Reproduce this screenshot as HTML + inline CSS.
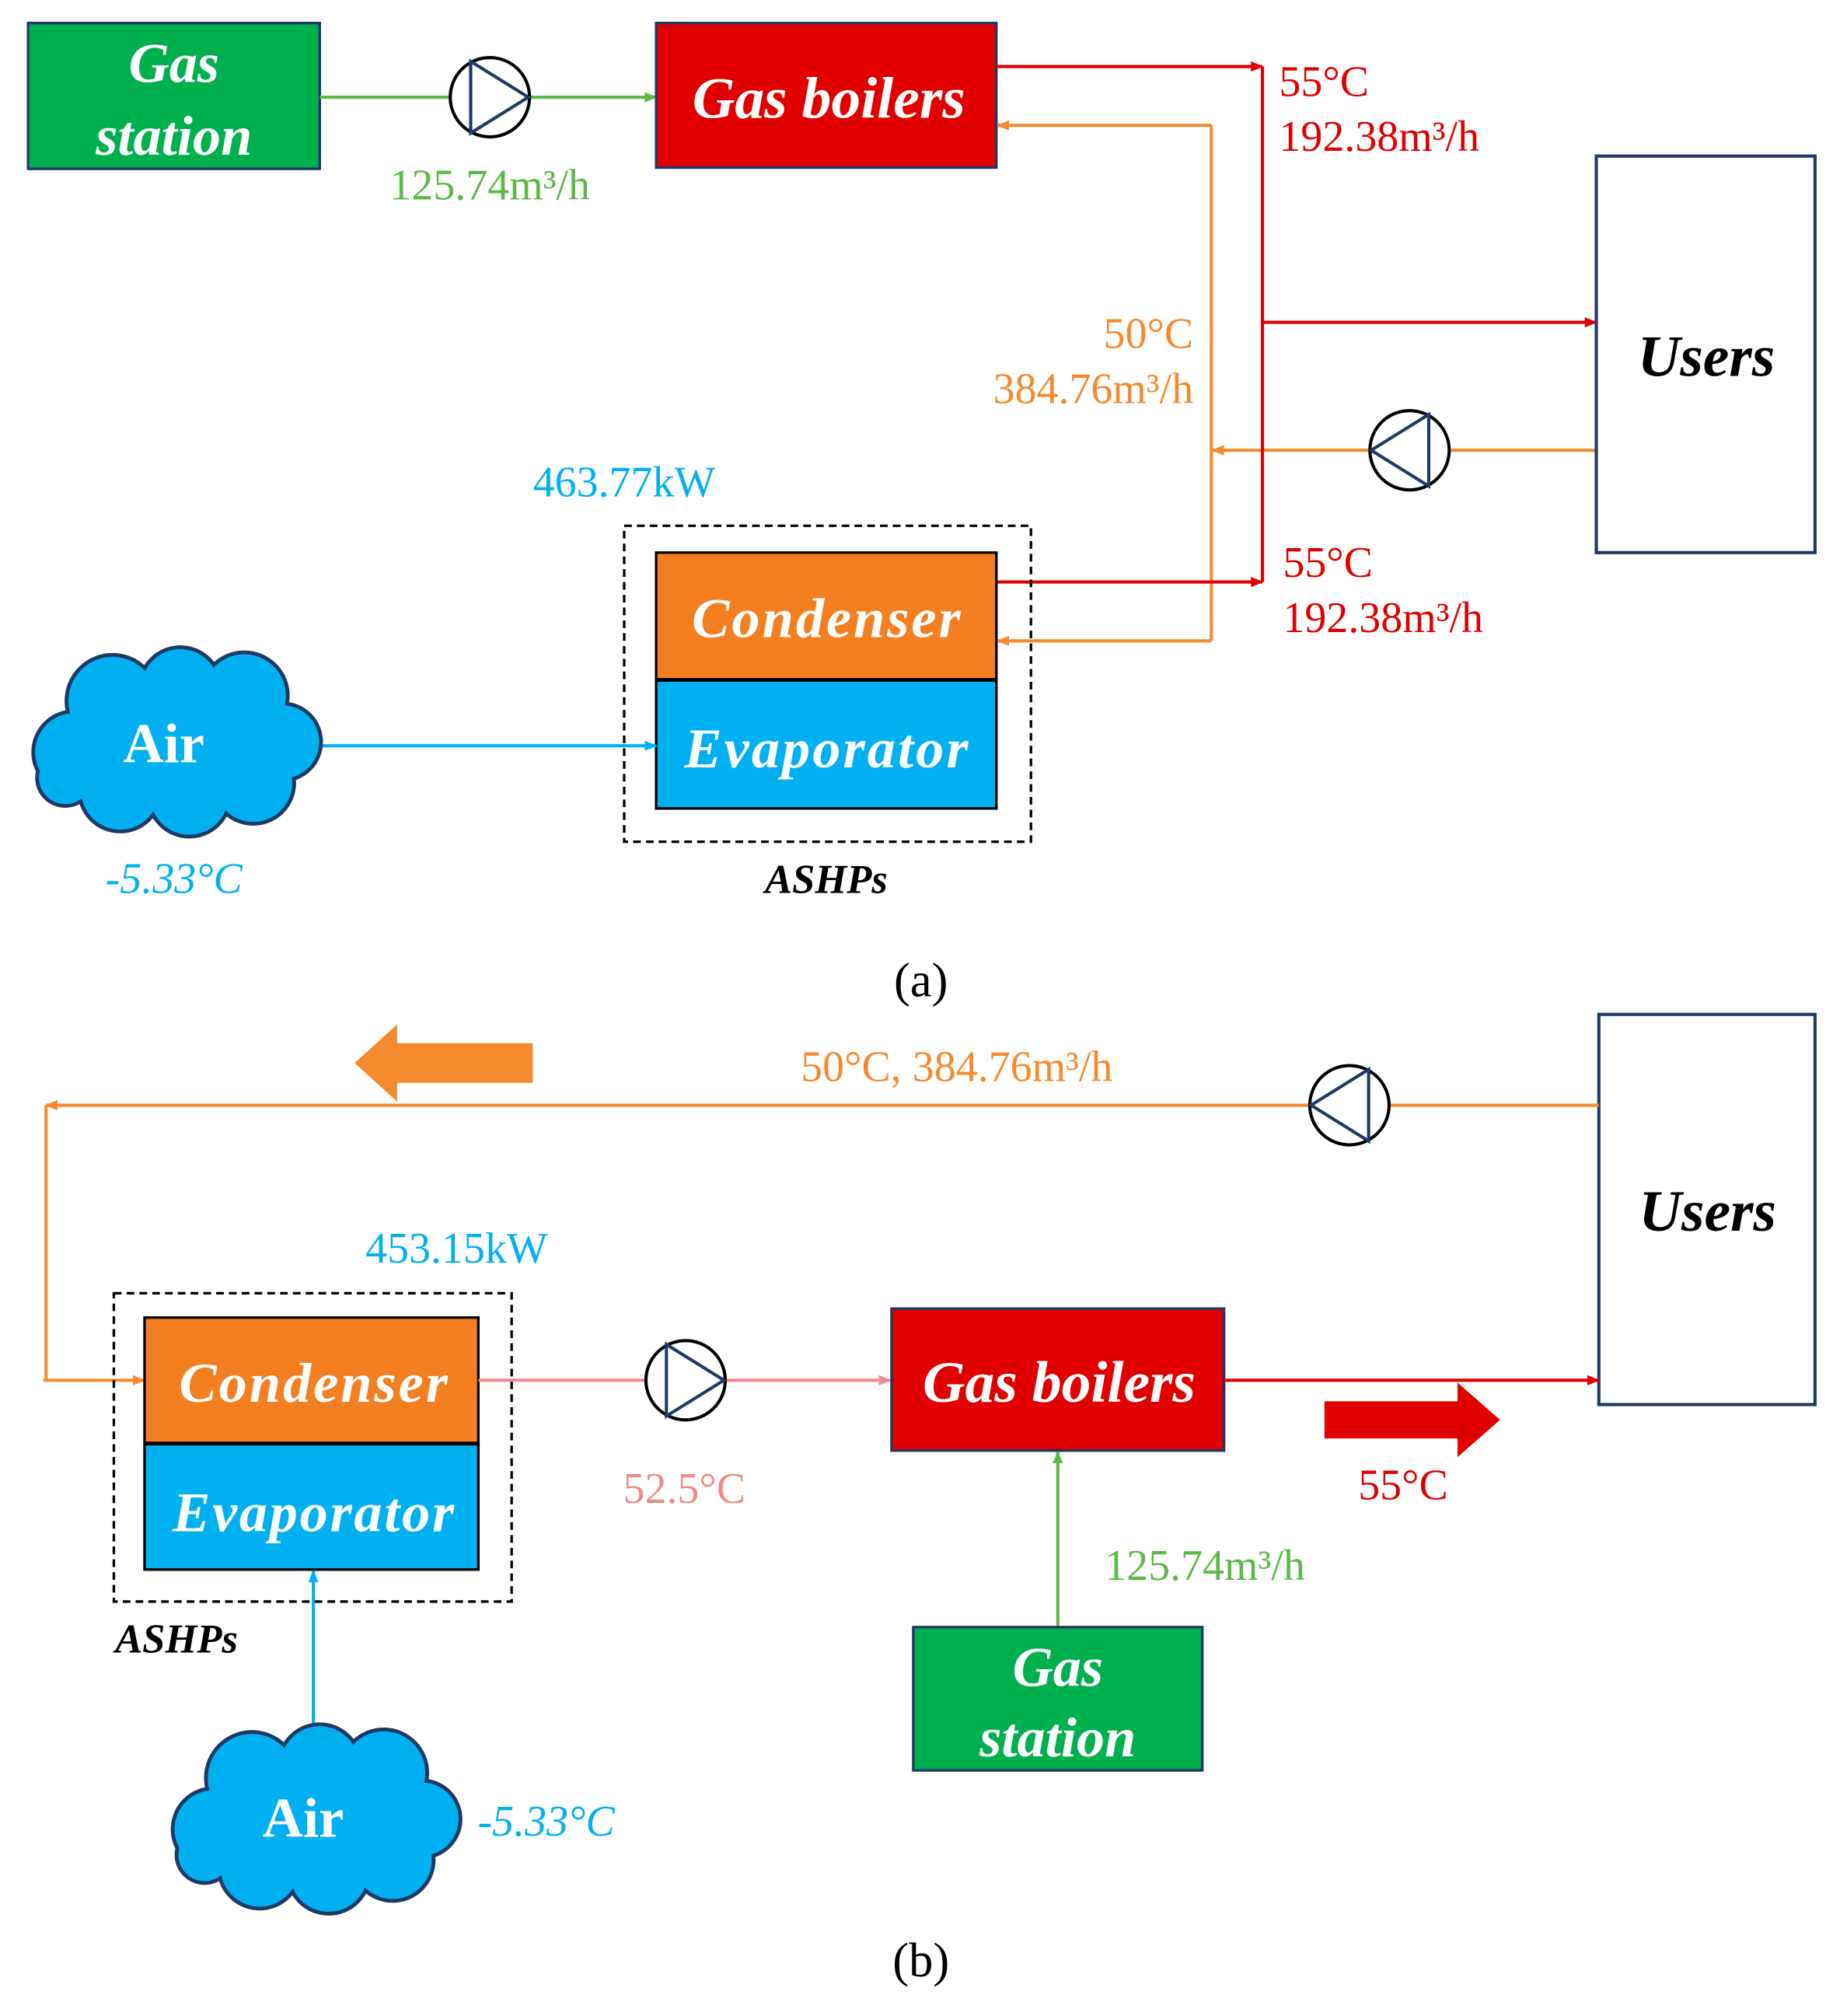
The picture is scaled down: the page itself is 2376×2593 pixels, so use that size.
<!DOCTYPE html>
<html><head><meta charset="utf-8"><style>
html,body{margin:0;padding:0;background:#fff}
svg{display:block}
svg text{font-family:"Liberation Serif","Times New Roman",serif}
.lbl{font-weight:bold;font-style:italic;fill:#fff;text-anchor:middle}
</style></head><body>
<svg width="2376" height="2593" viewBox="0 0 1444 1576" preserveAspectRatio="none" xmlns="http://www.w3.org/2000/svg" font-family="Liberation Serif, serif">
<defs>
<marker id="ag" markerWidth="10" markerHeight="8" refX="9" refY="4" orient="auto" markerUnits="userSpaceOnUse"><path d="M0,0 L10,4 L0,8z" fill="#5cb946"/></marker>
<marker id="ar" markerWidth="10" markerHeight="8" refX="9" refY="4" orient="auto" markerUnits="userSpaceOnUse"><path d="M0,0 L10,4 L0,8z" fill="#e00000"/></marker>
<marker id="ao" markerWidth="10" markerHeight="8" refX="9" refY="4" orient="auto" markerUnits="userSpaceOnUse"><path d="M0,0 L10,4 L0,8z" fill="#f5892e"/></marker>
<marker id="ac" markerWidth="10" markerHeight="8" refX="9" refY="4" orient="auto" markerUnits="userSpaceOnUse"><path d="M0,0 L10,4 L0,8z" fill="#00b0f0"/></marker>
<marker id="ap" markerWidth="10" markerHeight="8" refX="9" refY="4" orient="auto" markerUnits="userSpaceOnUse"><path d="M0,0 L10,4 L0,8z" fill="#f08a8a"/></marker>
<g id="cloud">
<g stroke="#1f3864" stroke-width="3" fill="#00b0f0">
<circle cx="-78" cy="8" r="32"/><circle cx="-48" cy="-32" r="36"/><circle cx="5" cy="-42" r="32"/><circle cx="55" cy="-36" r="34"/><circle cx="85" cy="0" r="30"/><circle cx="62" cy="32" r="32"/><circle cx="12" cy="42" r="32"/><circle cx="-42" cy="38" r="32"/><circle cx="-85" cy="28" r="22"/>
</g>
<g fill="#00b0f0">
<circle cx="-78" cy="8" r="30.5"/><circle cx="-48" cy="-32" r="34.5"/><circle cx="5" cy="-42" r="30.5"/><circle cx="55" cy="-36" r="32.5"/><circle cx="85" cy="0" r="28.5"/><circle cx="62" cy="32" r="30.5"/><circle cx="12" cy="42" r="30.5"/><circle cx="-42" cy="38" r="30.5"/><circle cx="-85" cy="28" r="20.5"/><ellipse cx="0" cy="0" rx="80" ry="50"/>
</g>
</g>
</defs>

<!-- ===== (a) ===== -->
<rect x="22" y="18" width="228" height="114" fill="#00b04f" stroke="#1f3864" stroke-width="2"/>
<text class="lbl" x="136" y="64" font-size="44">Gas</text>
<text class="lbl" x="136" y="121" font-size="44">station</text>
<line x1="250" y1="76" x2="513" y2="76" stroke="#5cb946" stroke-width="2.5" marker-end="url(#ag)"/>
<ellipse cx="383" cy="76" rx="31" ry="31" fill="#fff" stroke="#000" stroke-width="2.5"/>
<path d="M368,48 L368,104 L413,76z" fill="none" stroke="#1f3864" stroke-width="2.5"/>
<text x="383" y="156" font-size="34" fill="#5cb946" text-anchor="middle">125.74m³/h</text>
<rect x="513" y="18" width="266" height="113" fill="#e00000" stroke="#1f3864" stroke-width="2"/>
<text class="lbl" x="648" y="92" font-size="46">Gas boilers</text>

<polyline points="947,98 947,501" fill="none" stroke="#f5892e" stroke-width="2.5"/>
<line x1="947" y1="98" x2="780" y2="98" stroke="#f5892e" stroke-width="2.5" marker-end="url(#ao)"/>
<line x1="947" y1="501" x2="780" y2="501" stroke="#f5892e" stroke-width="2.5" marker-end="url(#ao)"/>
<line x1="1248" y1="352" x2="948" y2="352" stroke="#f5892e" stroke-width="2.5" marker-end="url(#ao)"/>
<line x1="779" y1="52" x2="987" y2="52" stroke="#e00000" stroke-width="2.5" marker-end="url(#ar)"/>
<line x1="987" y1="52" x2="987" y2="455" stroke="#e00000" stroke-width="2.5"/>
<line x1="779" y1="455" x2="987" y2="455" stroke="#e00000" stroke-width="2.5" marker-end="url(#ar)"/>
<line x1="987" y1="252" x2="1248" y2="252" stroke="#e00000" stroke-width="2.5" marker-end="url(#ar)"/>
<ellipse cx="1102" cy="352" rx="31" ry="31" fill="#fff" stroke="#000" stroke-width="2.5"/>
<path d="M1117,324 L1117,380 L1072,352z" fill="none" stroke="#1f3864" stroke-width="2.5"/>
<text x="1000" y="75" font-size="34" fill="#e00000">55°C</text>
<text x="1000" y="118" font-size="34" fill="#e00000">192.38m³/h</text>
<text x="1003" y="451" font-size="34" fill="#e00000">55°C</text>
<text x="1003" y="494" font-size="34" fill="#e00000">192.38m³/h</text>
<text x="933" y="272" font-size="34" fill="#f5892e" text-anchor="end">50°C</text>
<text x="933" y="315" font-size="34" fill="#f5892e" text-anchor="end">384.76m³/h</text>
<rect x="1248" y="122" width="171" height="310" fill="#fff" stroke="#1f3864" stroke-width="2.5"/>
<text x="1334" y="294" font-size="46" font-weight="bold" font-style="italic" text-anchor="middle">Users</text>

<text x="488" y="388" font-size="34" fill="#00b0f0" text-anchor="middle">463.77kW</text>
<rect x="488" y="411" width="318" height="247" fill="none" stroke="#000" stroke-width="2" stroke-dasharray="6,4"/>
<rect x="513" y="432" width="266" height="99" fill="#f47f20" stroke="#000" stroke-width="2"/>
<rect x="513" y="532" width="266" height="100" fill="#00b0f0" stroke="#000" stroke-width="2"/>
<text class="lbl" x="646" y="498" font-size="44" textLength="210">Condenser</text>
<text class="lbl" x="646" y="600" font-size="44" textLength="222">Evaporator</text>
<text x="646" y="698" font-size="32" font-weight="bold" font-style="italic" text-anchor="middle">ASHPs</text>
<line x1="250" y1="583" x2="513" y2="583" stroke="#00b0f0" stroke-width="2.5" marker-end="url(#ac)"/>
<use href="#cloud" transform="translate(136,580)"/>
<text x="128" y="596" font-size="44" font-weight="bold" fill="#fff" text-anchor="middle">Air</text>
<text x="136" y="698" font-size="34" font-style="italic" fill="#00b0f0" text-anchor="middle">-5.33°C</text>
<text x="720" y="779" font-size="38" text-anchor="middle">(a)</text>

<!-- ===== (b) ===== -->
<rect x="1250" y="793" width="169" height="305" fill="#fff" stroke="#1f3864" stroke-width="2.5"/>
<text x="1335" y="962" font-size="46" font-weight="bold" font-style="italic" text-anchor="middle">Users</text>
<line x1="1250" y1="864" x2="36" y2="864" stroke="#f5892e" stroke-width="2.5" marker-end="url(#ao)"/>
<polyline points="36,864 36,1079" fill="none" stroke="#f5892e" stroke-width="2.5"/>
<line x1="34" y1="1079" x2="113" y2="1079" stroke="#f5892e" stroke-width="2.5" marker-end="url(#ao)"/>
<ellipse cx="1055" cy="864" rx="31" ry="31" fill="#fff" stroke="#000" stroke-width="2.5"/>
<path d="M1070,836 L1070,892 L1025,864z" fill="none" stroke="#1f3864" stroke-width="2.5"/>
<path d="M278,831 L310,802 L310,816 L416,816 L416,846 L310,846 L310,860z" fill="#f5892e" stroke="#f5892e"/>
<text x="748" y="845" font-size="34" fill="#f5892e" text-anchor="middle">50°C, 384.76m³/h</text>

<text x="357" y="987" font-size="34" fill="#00b0f0" text-anchor="middle">453.15kW</text>
<rect x="89" y="1011" width="311" height="241" fill="none" stroke="#000" stroke-width="2" stroke-dasharray="6,4"/>
<rect x="113" y="1030" width="261" height="98" fill="#f47f20" stroke="#000" stroke-width="2"/>
<rect x="113" y="1129" width="261" height="98" fill="#00b0f0" stroke="#000" stroke-width="2"/>
<text class="lbl" x="245" y="1096" font-size="44" textLength="210">Condenser</text>
<text class="lbl" x="245" y="1197" font-size="44" textLength="220">Evaporator</text>
<text x="138" y="1292" font-size="32" font-weight="bold" font-style="italic" text-anchor="middle">ASHPs</text>

<line x1="374" y1="1079" x2="696" y2="1079" stroke="#f08a8a" stroke-width="2.5" marker-end="url(#ap)"/>
<ellipse cx="536" cy="1079" rx="31" ry="31" fill="#fff" stroke="#000" stroke-width="2.5"/>
<path d="M521,1051 L521,1107 L566,1079z" fill="none" stroke="#1f3864" stroke-width="2.5"/>
<text x="535" y="1175" font-size="34" fill="#f08a8a" text-anchor="middle">52.5°C</text>

<rect x="697" y="1023" width="260" height="111" fill="#e00000" stroke="#1f3864" stroke-width="2"/>
<text class="lbl" x="828" y="1096" font-size="46">Gas boilers</text>
<line x1="957" y1="1079" x2="1250" y2="1079" stroke="#e00000" stroke-width="2.5" marker-end="url(#ar)"/>
<path d="M1036,1096 L1140,1096 L1140,1082 L1172,1110 L1140,1138 L1140,1124 L1036,1124z" fill="#e00000" stroke="#e00000"/>
<text x="1097" y="1172" font-size="34" fill="#e00000" text-anchor="middle">55°C</text>

<line x1="827" y1="1272" x2="827" y2="1135" stroke="#5cb946" stroke-width="2.5" marker-end="url(#ag)"/>
<text x="942" y="1235" font-size="34" fill="#5cb946" text-anchor="middle">125.74m³/h</text>
<rect x="714" y="1272" width="226" height="112" fill="#00b04f" stroke="#1f3864" stroke-width="2"/>
<text class="lbl" x="827" y="1318" font-size="44">Gas</text>
<text class="lbl" x="827" y="1373" font-size="44">station</text>

<line x1="245" y1="1350" x2="245" y2="1228" stroke="#00b0f0" stroke-width="2.5" marker-end="url(#ac)"/>
<use href="#cloud" transform="translate(245,1422)"/>
<text x="237" y="1436" font-size="44" font-weight="bold" fill="#fff" text-anchor="middle">Air</text>
<text x="427" y="1435" font-size="34" font-style="italic" fill="#00b0f0" text-anchor="middle">-5.33°C</text>
<text x="720" y="1545" font-size="38" text-anchor="middle">(b)</text>
</svg>
</body></html>
